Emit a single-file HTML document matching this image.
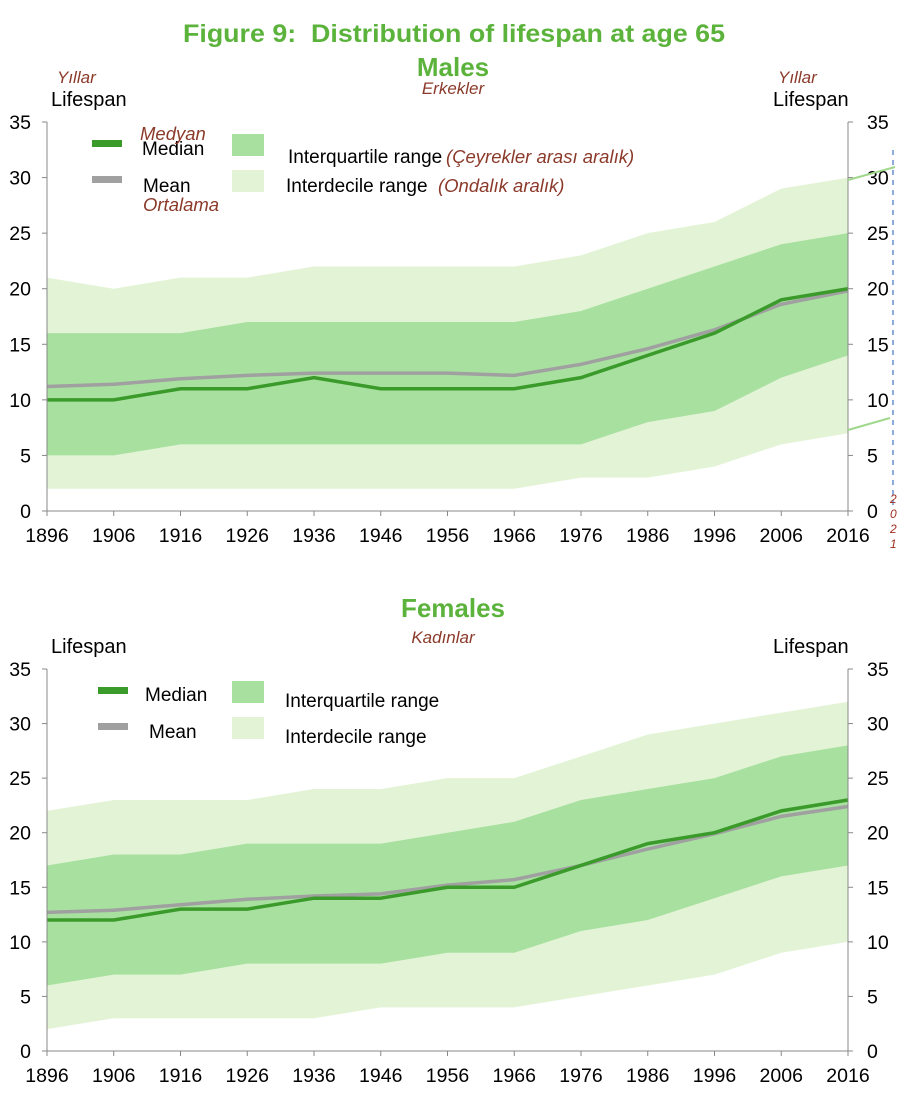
<!DOCTYPE html>
<html><head><meta charset="utf-8"><style>
body{margin:0;background:#fff;font-family:"Liberation Sans",Arial,sans-serif}
svg text{font-family:"Liberation Sans",Arial,sans-serif}
</style></head><body>
<svg id="s" width="900" height="1096" xmlns="http://www.w3.org/2000/svg">
<text x="183" y="42" textLength="542" lengthAdjust="spacingAndGlyphs" font-size="25" font-weight="bold" fill="#5cb33c" xml:space="preserve">Figure 9:  Distribution of lifespan at age 65</text>
<text x="453" y="76" text-anchor="middle" font-size="26" font-weight="bold" fill="#5cb33c">Males</text>
<text x="453" y="94" text-anchor="middle" font-size="17" font-style="italic" fill="#8b3a2a">Erkekler</text>
<text x="453" y="617" text-anchor="middle" font-size="26" font-weight="bold" fill="#5cb33c">Females</text>
<text x="443" y="643" text-anchor="middle" font-size="17" font-style="italic" fill="#8b3a2a">Kadınlar</text>
<g id="c1"></g><g id="c2"></g>
<line x1="848" y1="180" x2="895" y2="167" stroke="#9fd88a" stroke-width="2"/>
<line x1="848" y1="430" x2="890" y2="418" stroke="#9fd88a" stroke-width="2"/>
<line x1="893" y1="150" x2="893" y2="510" stroke="#6a8fcf" stroke-width="1.5" stroke-dasharray="5,5"/>
<text x="893" y="503" font-size="12" font-style="italic" fill="#a03020"><tspan x="890" dy="0">2</tspan><tspan x="890" dy="15">0</tspan><tspan x="890" dy="15">2</tspan><tspan x="890" dy="15">1</tspan></text>
</svg>
<script>
const years=[1896,1906,1916,1926,1936,1946,1956,1966,1976,1986,1996,2006,2016];
const mDecHi=[21,20,21,21,22,22,22,22,23,25,26,29,30];
const mIqrHi=[16,16,16,17,17,17,17,17,18,20,22,24,25];
const mMedian=[10,10,11,11,12,11,11,11,12,14,16,19,20];
const mMean=[11.2,11.4,11.9,12.2,12.4,12.4,12.4,12.2,13.2,14.6,16.3,18.6,19.8];
const mIqrLo=[5,5,6,6,6,6,6,6,6,8,9,12,14];
const mDecLo=[2,2,2,2,2,2,2,2,3,3,4,6,7];
const fDecHi=[22,23,23,23,24,24,25,25,27,29,30,31,32];
const fIqrHi=[17,18,18,19,19,19,20,21,23,24,25,27,28];
const fMedian=[12,12,13,13,14,14,15,15,17,19,20,22,23];
const fMean=[12.7,12.9,13.4,13.9,14.2,14.4,15.2,15.7,17,18.5,19.9,21.5,22.4];
const fIqrLo=[6,7,7,8,8,8,9,9,11,12,14,16,17];
const fDecLo=[2,3,3,3,3,4,4,4,5,6,7,9,10];
const yTicks=[0,5,10,15,20,25,30,35];
const NS="http://www.w3.org/2000/svg";
function mk(p,t,a){const e=document.createElementNS(NS,t);for(const k in a)e.setAttribute(k,a[k]);p.appendChild(e);return e;}
function chart(g,top,bot,d,male){
 const x0=47,x1=848;
 const X=i=>x0+(x1-x0)*(years[i]-years[0])/(years[years.length-1]-years[0]);
 const Y=v=>bot-(bot-top)*v/35;
 const band=(hi,lo,fill,name)=>{let s="M"+hi.map((v,i)=>X(i)+","+Y(v)).join("L")+"L"+lo.map((v,i)=>X(i)+","+Y(v)).reverse().join("L")+"Z";
  const e=mk(g,"path",{d:s,fill:fill});
  
  };
 band(d[0],d[5],"#e3f4d6","interdecile-band");
 band(d[1],d[4],"#a8e0a0","interquartile-band");
 const line=(v,c,name)=>{const e=mk(g,"polyline",{points:v.map((a,i)=>X(i)+","+Y(a)).join(" "),fill:"none",stroke:c,"stroke-width":3.5});
  
  };
 line(d[3],"#a0a0a0","mean-line");
 line(d[2],"#3a9a2a","median-line");
 mk(g,"line",{x1:x0,y1:top,x2:x0,y2:bot,stroke:"#888"});
 mk(g,"line",{x1:x1,y1:top,x2:x1,y2:bot,stroke:"#888"});
 mk(g,"line",{x1:x0,y1:bot,x2:x1,y2:bot,stroke:"#888"});
 yTicks.forEach(v=>{
  mk(g,"line",{x1:x0-5,y1:Y(v),x2:x0,y2:Y(v),stroke:"#888"});
  mk(g,"line",{x1:x1,y1:Y(v),x2:x1+5,y2:Y(v),stroke:"#888"});
  let t=mk(g,"text",{x:31,y:Y(v)+7,"text-anchor":"end","font-size":19.5});t.textContent=v;
  
  
  t=mk(g,"text",{x:867,y:Y(v)+7,"font-size":19.5});t.textContent=v;
  
  
 });
 years.forEach((yr,i)=>{
  mk(g,"line",{x1:X(i),y1:bot,x2:X(i),y2:bot+5,stroke:"#888"});
  const t=mk(g,"text",{x:X(i),y:bot+31,"text-anchor":"middle","font-size":19.5});t.textContent=yr;
  
  
 });
 let t=mk(g,"text",{x:51,y:top-16,"font-size":20});t.textContent="Lifespan";
 
 
 t=mk(g,"text",{x:773,y:top-16,"font-size":20});t.textContent="Lifespan";
 
 
 const L=mk(g,"g",{});
 
 
 const ly=top+20;
 mk(L,"rect",{x:male?92:98,y:ly-2,width:30,height:7,fill:"#3a9a2a"});
 mk(L,"rect",{x:male?92:98,y:ly+34,width:30,height:7,fill:"#a0a0a0"});
 mk(L,"rect",{x:232,y:ly-8,width:32,height:22,fill:"#a8e0a0"});
 mk(L,"rect",{x:232,y:ly+28,width:32,height:22,fill:"#e3f4d6"});
 const tx=(x,y,s,o)=>{const e=mk(L,"text",Object.assign({x:x,y:y,"font-size":19},o||{}));e.textContent=s;return e;};
 if(male){
  tx(142,ly+13,"Median");tx(143,ly+50,"Mean");
  tx(288,ly+21,"Interquartile range");tx(286,ly+50,"Interdecile range");
  const it={"font-style":"italic",fill:"#8b3a2a","font-size":18.5};
  tx(140,ly-2,"Medyan",it);tx(143,ly+69,"Ortalama",it);
  tx(446,ly+21,"(Çeyrekler arası aralık)",it);tx(438,ly+50,"(Ondalık aralık)",it);
 }else{
  tx(145,ly+12,"Median");tx(149,ly+49,"Mean");
  tx(285,ly+18,"Interquartile range");tx(285,ly+54,"Interdecile range");
 }
}
chart(document.getElementById("c1"),122,511,[mDecHi,mIqrHi,mMedian,mMean,mIqrLo,mDecLo],true);
chart(document.getElementById("c2"),669,1051,[fDecHi,fIqrHi,fMedian,fMean,fIqrLo,fDecLo],false);
const s=document.getElementById("s");
[[57,"Yıllar"],[778,"Yıllar"]].forEach(a=>{const e=mk(s,"text",{x:a[0],y:83,"font-size":17,"font-style":"italic",fill:"#8b3a2a"});e.textContent=a[1];
 
 });
</script>
</body></html>
